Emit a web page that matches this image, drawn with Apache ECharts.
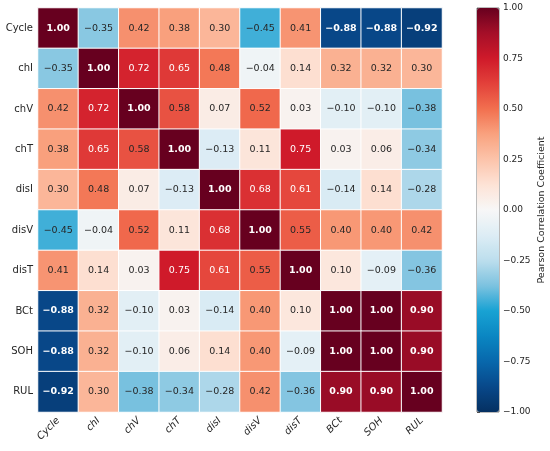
<!DOCTYPE html>
<html>
<head>
<meta charset="utf-8">
<script src="https://cdn.jsdelivr.net/npm/echarts@6/dist/echarts.min.js"></script>
<style>
  html, body { margin: 0; padding: 0; background: #fff; }
  #chart { width: 550px; height: 451px; }
</style>
</head>
<body>
<div id="chart"></div>
<script>
// variable names, top to bottom / left to right
const features = ['Cycle', 'chI', 'chV', 'chT', 'disI', 'disV', 'disT', 'BCt', 'SOH', 'RUL']

// Pearson correlation matrix, one row per feature
const corrCycle = [1.00, -0.35, 0.42, 0.38, 0.30, -0.45, 0.41, -0.88, -0.88, -0.92]
const corrChI = [-0.35, 1.00, 0.72, 0.65, 0.48, -0.04, 0.14, 0.32, 0.32, 0.30]
const corrChV = [0.42, 0.72, 1.00, 0.58, 0.07, 0.52, 0.03, -0.10, -0.10, -0.38]
const corrChT = [0.38, 0.65, 0.58, 1.00, -0.13, 0.11, 0.75, 0.03, 0.06, -0.34]
const corrDisI = [0.30, 0.48, 0.07, -0.13, 1.00, 0.68, 0.61, -0.14, 0.14, -0.28]
const corrDisV = [-0.45, -0.04, 0.52, 0.11, 0.68, 1.00, 0.55, 0.40, 0.40, 0.42]
const corrDisT = [0.41, 0.14, 0.03, 0.75, 0.61, 0.55, 1.00, 0.10, -0.09, -0.36]
const corrBCt = [-0.88, 0.32, -0.10, 0.03, -0.14, 0.40, 0.10, 1.00, 1.00, 0.90]
const corrSOH = [-0.88, 0.32, -0.10, 0.06, 0.14, 0.40, -0.09, 1.00, 1.00, 0.90]
const corrRUL = [-0.92, 0.30, -0.38, -0.34, -0.28, 0.42, -0.36, 0.90, 0.90, 1.00]

const matrix = [corrCycle, corrChI, corrChV, corrChT, corrDisI, corrDisV, corrDisT, corrBCt, corrSOH, corrRUL]

// colour bar ticks
const barTicks = [-1.00, -0.75, -0.50, -0.25, 0.00, 0.25, 0.50, 0.75, 1.00]

const FONT = 'DejaVu Sans'
const fmt = (v) => v.toFixed(2).replace('-', '\u2212')

const cmap = [
  '#053061', '#08488a', '#0868ac', '#0a86c2', '#18a2d3', '#7cc2df', '#bcdeed', '#ddedf5',
  '#f7f7f7',
  '#fde3d6', '#fcc4aa', '#f9a27f', '#f2704f', '#e3413a', '#cf1a2a', '#a50f28', '#67001f'
]

const cells = []
matrix.forEach((row, i) => {
  row.forEach((v, j) => {
    const a = Math.abs(v)
    cells.push({
      value: [j, i, v],
      label: {
        color: a >= 0.6 ? '#ffffff' : '#262626',
        fontWeight: a >= 0.85 ? 'bold' : 'normal'
      }
    })
  })
})

const chart = echarts.init(document.getElementById('chart'))
chart.setOption({
  animation: false,
  backgroundColor: '#fff',
  textStyle: { fontFamily: FONT },
  grid: [
    { left: 38, top: 8, width: 404, height: 404 },
    { left: 477, top: 8, width: 22, height: 404, show: true, borderColor: '#555', borderWidth: 0.8, backgroundColor: 'transparent' }
  ],
  xAxis: [
    {
      type: 'category', data: features, gridIndex: 0,
      axisLine: { show: false }, axisTick: { show: false }, splitLine: { show: false },
      axisLabel: { rotate: 45, margin: 7, fontSize: 10, fontStyle: 'italic', color: '#262626', fontFamily: FONT }
    },
    { type: 'value', gridIndex: 1, show: false, min: 0, max: 1 }
  ],
  yAxis: [
    {
      type: 'category', data: features, gridIndex: 0, inverse: true,
      axisLine: { show: false }, axisTick: { show: false }, splitLine: { show: false },
      axisLabel: { margin: 5, fontSize: 10, color: '#262626', fontFamily: FONT }
    },
    {
      type: 'value', gridIndex: 1, position: 'right', min: -1, max: 1, interval: 0.25,
      axisLine: { show: false }, splitLine: { show: false },
      axisTick: { show: true, length: 3, lineStyle: { color: '#333', width: 0.8 } },
      axisLabel: {
        margin: 4, fontSize: 9, color: '#262626', fontFamily: FONT,
        formatter: (v) => barTicks.some(t => Math.abs(t - v) < 1e-9) ? fmt(v) : ''
      },
      name: 'Pearson Correlation Coefficient',
      nameLocation: 'middle', nameGap: 38, nameRotate: 90,
      nameTextStyle: { fontSize: 9.5, color: '#262626', fontFamily: FONT }
    }
  ],
  visualMap: {
    type: 'continuous', min: -1, max: 1, seriesIndex: 0,
    calculable: false, show: true, orient: 'vertical',
    left: 477, top: 8, itemWidth: 22, itemHeight: 404, padding: 0,
    text: null, inRange: { color: cmap }
  },
  series: [
    {
      type: 'heatmap', xAxisIndex: 0, yAxisIndex: 0, data: cells,
      itemStyle: { borderColor: '#ffffff', borderWidth: 1 },
      label: {
        show: true, fontSize: 9.5, fontFamily: FONT,
        formatter: (p) => fmt(p.value[2])
      }
    }
  ]
})
</script>
</body>
</html>
